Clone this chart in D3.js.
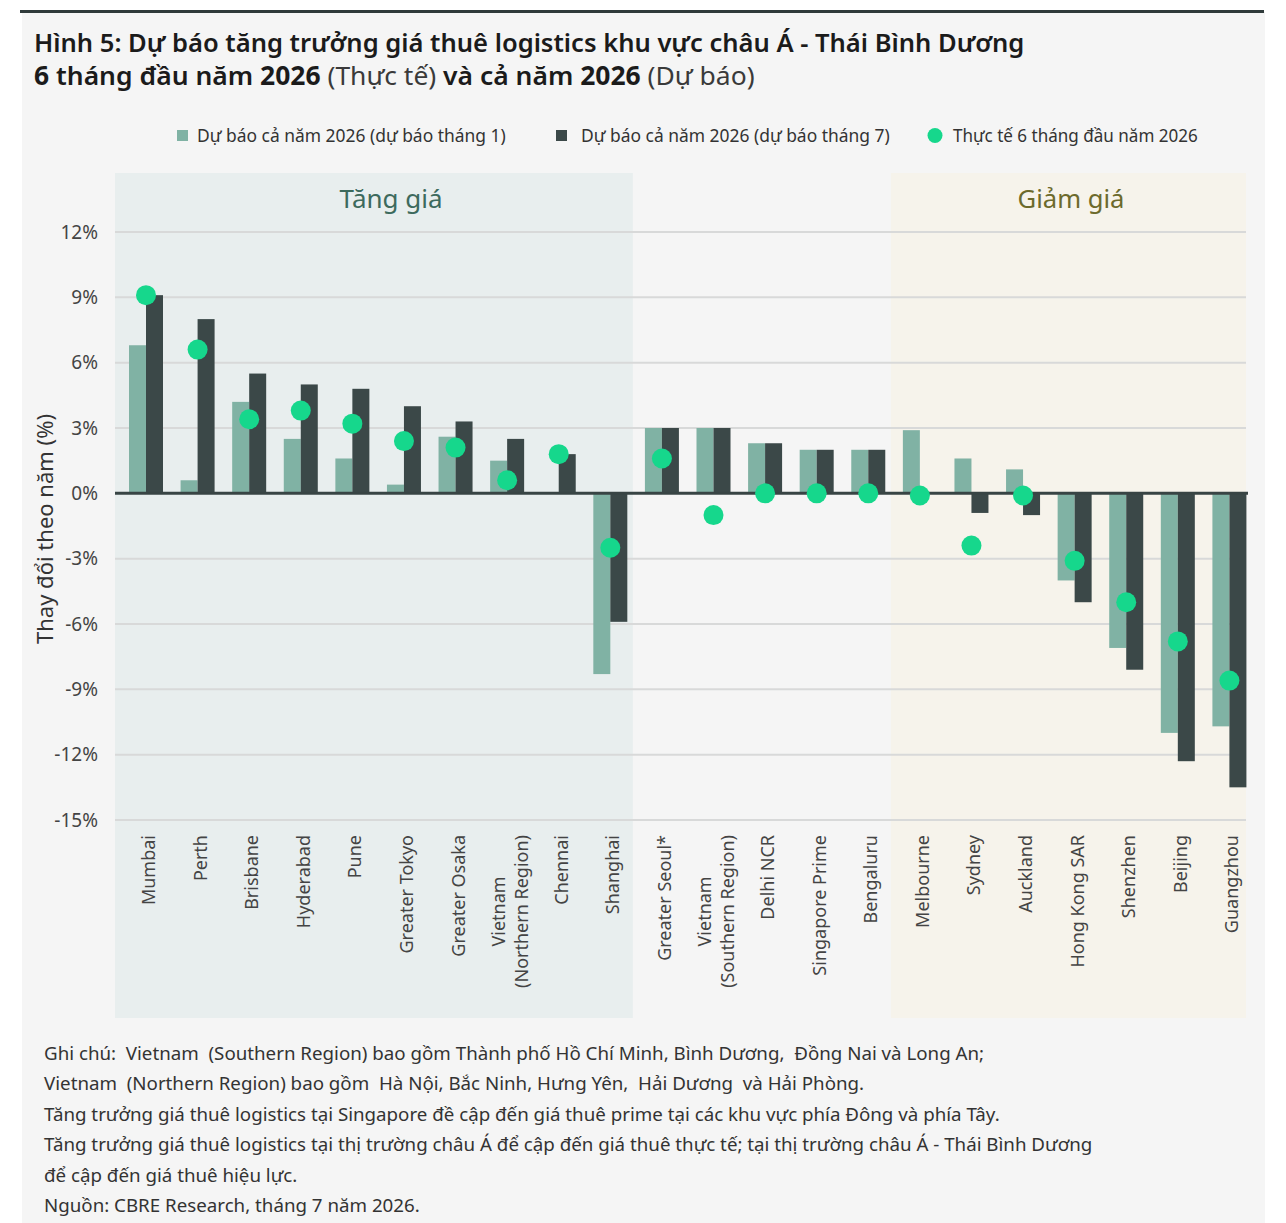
<!DOCTYPE html>
<html>
<head>
<meta charset="utf-8">
<script src="https://cdn.jsdelivr.net/npm/d3@7"></script>
<style>
  body { margin: 0; background: #fff; }
  svg { display: block; }
  .pre { white-space: pre; }
</style>
</head>
<body>
<div id="chart"></div>
<script>
// categories, left to right
const cities = [
  "Mumbai", "Perth", "Brisbane", "Hyderabad", "Pune", "Greater Tokyo",
  "Greater Osaka", "Vietnam\n(Northern Region)", "Chennai", "Shanghai",
  "Greater Seoul*", "Vietnam\n(Southern Region)", "Delhi NCR",
  "Singapore Prime", "Bengaluru", "Melbourne", "Sydney", "Auckland",
  "Hong Kong SAR", "Shenzhen", "Beijing", "Guangzhou"
];
// full-year 2026 forecast made in January (%)
const forecastJan = [6.8, 0.6, 4.2, 2.5, 1.6, 0.4, 2.6, 1.5, 0, -8.3,
  3.0, 3.0, 2.3, 2.0, 2.0, 2.9, 1.6, 1.1, -4.0, -7.1, -11.0, -10.7];
// full-year 2026 forecast made in July (%)
const forecastJul = [9.1, 8.0, 5.5, 5.0, 4.8, 4.0, 3.3, 2.5, 1.8, -5.9,
  3.0, 3.0, 2.3, 2.0, 2.0, 0, -0.9, -1.0, -5.0, -8.1, -12.3, -13.5];
// actual H1 2026 (%)
const actualH1 = [9.1, 6.6, 3.4, 3.8, 3.2, 2.4, 2.1, 0.6, 1.8, -2.5,
  1.6, -1.0, 0, 0, 0, -0.1, -2.4, -0.1, -3.1, -5.0, -6.8, -8.6];

const yTicks = [12, 9, 6, 3, 0, -3, -6, -9, -12, -15];
const legendLabels = [
  "Dự báo cả năm 2026 (dự báo tháng 1)",
  "Dự báo cả năm 2026 (dự báo tháng 7)",
  "Thực tế 6 tháng đầu năm 2026"
];
const noteLines = [
  "Ghi chú:  Vietnam  (Southern Region) bao gồm Thành phố Hồ Chí Minh, Bình Dương,  Đồng Nai và Long An;",
  "Vietnam  (Northern Region) bao gồm  Hà Nội, Bắc Ninh, Hưng Yên,  Hải Dương  và Hải Phòng.",
  "Tăng trưởng giá thuê logistics tại Singapore đề cập đến giá thuê prime tại các khu vực phía Đông và phía Tây.",
  "Tăng trưởng giá thuê logistics tại thị trường châu Á để cập đến giá thuê thực tế; tại thị trường châu Á - Thái Bình Dương",
  "để cập đến giá thuê hiệu lực.",
  "Nguồn: CBRE Research, tháng 7 năm 2026."
];

const colJan = "#80b2a4", colJul = "#3b4848", colDot = "#16d78c";
const font = "'Noto Sans', 'Open Sans', sans-serif";

const W = 1286, H = 1223;
const plotL = 115, plotR = 1246;

const svg = d3.select("#chart").append("svg")
  .attr("width", W).attr("height", H)
  .style("font-family", font);

// card
svg.append("rect").attr("x", 22).attr("y", 12).attr("width", 1243).attr("height", H - 12)
  .attr("fill", "#f5f5f5");
svg.append("rect").attr("x", 20).attr("y", 10).attr("width", 1244).attr("height", 3)
  .attr("fill", "#2f3a3a");

// squeeze text horizontally to a target width (source font is condensed)
function squeeze(sel, x, y, target, anchor) {
  const w = sel.node().getComputedTextLength();
  sel.attr("x", 0).attr("y", 0).attr("text-anchor", anchor || "start")
    .attr("transform", `translate(${x},${y}) scale(${target / w},1)`);
  return target / w;
}

// title
const t1 = svg.append("text").attr("font-size", 26).attr("font-weight", 600).attr("fill", "#1b1b1b")
  .text("Hình 5: Dự báo tăng trưởng giá thuê logistics khu vực châu Á - Thái Bình Dương");
squeeze(t1, 34, 52, 991);
const t2 = svg.append("text").attr("font-size", 26).attr("fill", "#1b1b1b").attr("class", "pre");
[["6 ", 700], ["tháng đầu năm ", 600], ["2026 ", 700], ["(Thực tế) ", 400],
 ["và cả năm ", 600], ["2026 ", 700], ["(Dự báo)", 400]].forEach(([s, w]) => {
  t2.append("tspan").attr("font-weight", w).attr("fill", w === 400 ? "#3a3a3a" : "#1b1b1b").text(s);
});
squeeze(t2, 34, 85, 721);

// scales
const x = d3.scaleBand().domain(cities).range([117, 1252]);
const xs = d3.scaleBand().domain(["jan", "jul"]).range([12, 46]);
const y = d3.scaleLinear().domain([-15, 12]).range([820, 232]);

// shaded zones
const zoneTop = 173, zoneBot = 1018;
svg.append("rect").attr("x", plotL).attr("y", zoneTop)
  .attr("width", x("Shanghai") + x.step() - plotL).attr("height", zoneBot - zoneTop)
  .attr("fill", "#e8eeee");
svg.append("rect").attr("x", x("Melbourne")).attr("y", zoneTop)
  .attr("width", plotR - x("Melbourne")).attr("height", zoneBot - zoneTop)
  .attr("fill", "#f6f3eb");

const z1 = svg.append("text").attr("font-size", 26).attr("fill", "#3d6a5d").text("Tăng giá");
squeeze(z1, 391, 208, 103, "middle");
const z2 = svg.append("text").attr("font-size", 26).attr("fill", "#6c6a2c").text("Giảm giá");
squeeze(z2, 1071, 208, 107, "middle");

// legend
const lg = svg.append("g");
lg.append("rect").attr("x", 177).attr("y", 130).attr("width", 11).attr("height", 11).attr("fill", colJan);
lg.append("rect").attr("x", 556).attr("y", 130).attr("width", 11).attr("height", 11).attr("fill", colJul);
lg.append("circle").attr("cx", 935).attr("cy", 135.5).attr("r", 7.5).attr("fill", colDot);
[[197, 309], [581, 309], [953, 245]].forEach(([lx, tw], i) => {
  const t = lg.append("text").attr("font-size", 19).attr("fill", "#333").text(legendLabels[i]);
  squeeze(t, lx, 142, tw);
});

// grid
svg.append("g").selectAll("line").data(yTicks.filter(d => d !== 0)).join("line")
  .attr("x1", plotL).attr("x2", plotR)
  .attr("y1", d => y(d)).attr("y2", d => y(d))
  .attr("stroke", "#d8d9d9").attr("stroke-width", 2);

// y axis labels
const yAxis = svg.append("g").attr("transform", "translate(98,0)")
  .call(d3.axisLeft(y).tickValues(yTicks).tickFormat(d => d + "%").tickSize(0).tickPadding(0));
yAxis.select(".domain").remove();
yAxis.selectAll("text").attr("font-family", font).attr("font-size", 19).attr("fill", "#444");

svg.append("text")
  .attr("transform", "translate(44,529) rotate(-90)")
  .attr("text-anchor", "middle").attr("dominant-baseline", "central")
  .attr("font-size", 22).attr("fill", "#333")
  .text("Thay đổi theo năm (%)");

// bars
const rows = cities.map((c, i) => ({ c, jan: forecastJan[i], jul: forecastJul[i], act: actualH1[i] }));
const bars = svg.append("g").selectAll("g").data(rows).join("g")
  .attr("transform", d => `translate(${x(d.c)},0)`);
bars.selectAll("rect")
  .data(d => [{ k: "jan", v: d.jan }, { k: "jul", v: d.jul }])
  .join("rect")
  .attr("x", d => xs(d.k)).attr("width", xs.bandwidth())
  .attr("y", d => y(Math.max(0, d.v)))
  .attr("height", d => Math.abs(y(d.v) - y(0)))
  .attr("fill", d => d.k === "jan" ? colJan : colJul);

// zero line
svg.append("line").attr("x1", plotL).attr("x2", plotR + 2)
  .attr("y1", y(0)).attr("y2", y(0))
  .attr("stroke", "#384444").attr("stroke-width", 3);

// actual dots
svg.append("g").selectAll("circle").data(rows).join("circle")
  .attr("cx", d => x(d.c) + xs("jul"))
  .attr("cy", d => y(d.act))
  .attr("r", 10)
  .attr("fill", colDot);

// category labels
svg.append("g").selectAll("g").data(cities).join("g")
  .attr("transform", c => `translate(${x(c) + xs("jul") + 2},835) rotate(-90)`)
  .each(function (c) {
    const g = d3.select(this);
    const lines = c.split("\n");
    const n = lines.length;
    const ts = lines.map((s, i) => g.append("text")
      .attr("x", 0).attr("y", (i - (n - 1) / 2) * 23)
      .attr("text-anchor", "end").attr("dominant-baseline", "central")
      .attr("font-size", 18).attr("fill", "#444").text(s));
    const widths = ts.map(t => t.node().getComputedTextLength());
    const maxW = d3.max(widths);
    ts.forEach((t, i) => {
      if (widths[i] < maxW) t.attr("text-anchor", "middle").attr("x", -maxW / 2);
    });
  });

// notes
const notes = svg.append("g");
const probe = notes.append("text").attr("font-size", 19).text(noteLines[2]);
const nsx = 956 / probe.node().getComputedTextLength();
probe.remove();
noteLines.forEach((s, i) => {
  notes.append("text").attr("class", "pre")
    .attr("transform", `translate(44,${1060 + i * 30.4}) scale(${nsx},1)`)
    .attr("font-size", 19).attr("fill", "#333")
    .text(s);
});
</script>
</body>
</html>
